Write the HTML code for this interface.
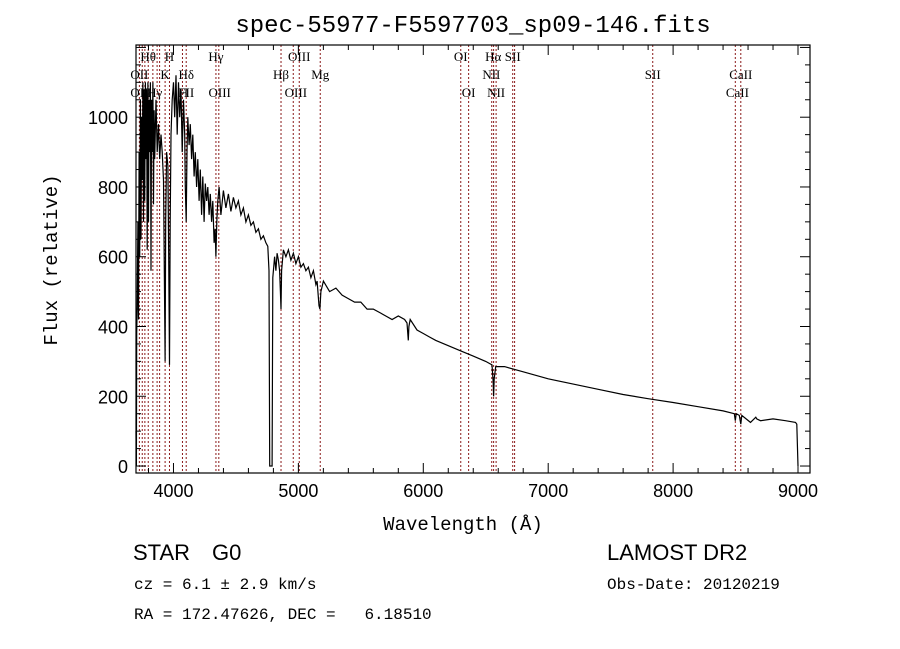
<!DOCTYPE html>
<html><head><meta charset="utf-8"><style>
html,body{margin:0;padding:0;background:#fff;width:900px;height:649px;overflow:hidden}
svg{display:block}
.t{font-family:"Liberation Mono",monospace;fill:#000}
.s{font-family:"Liberation Sans",sans-serif;fill:#000}
.r{font-family:"Liberation Serif",serif;fill:#000;font-size:13px}
</style></head><body>
<svg id="chart" width="900" height="649" viewBox="0 0 900 649" xmlns="http://www.w3.org/2000/svg">
<text class="t" x="473" y="32" font-size="24" text-anchor="middle">spec-55977-F5597703_sp09-146.fits</text>
<text class="t" x="463" y="530" font-size="19" text-anchor="middle">Wavelength (Å)</text>
<text class="t" x="57" y="260" font-size="19" text-anchor="middle" transform="rotate(-90 57 260)">Flux (relative)</text>
<text class="s" x="133" y="560" font-size="22">STAR</text>
<text class="s" x="212" y="560" font-size="22">G0</text>
<text class="s" x="607" y="560" font-size="22">LAMOST DR2</text>
<text class="t" x="134" y="589" font-size="16">cz = 6.1 ± 2.9 km/s</text>
<text class="t" x="607" y="589" font-size="16">Obs-Date: 20120219</text>
<text class="t" x="134" y="619" font-size="16" xml:space="preserve">RA = 172.47626, DEC =   6.18510</text>
<g id="plot"></g>
</svg>
<script>
const wave=[3700,3703,3706,3710,3715,3720,3725,3730,3735,3740,
3745,3750,3755,3760,3765,3770,3775,3780,3785,3790,
3795,3800,3805,3810,3815,3820,3825,3830,3835,3840,
3845,3850,3860,3870,3880,3890,3900,3910,3920,3928,
3933,3938,3945,3955,3962,3968,3974,3980,3990,4000,
4010,4020,4030,4040,4050,4060,4070,4080,4090,4095,
4102,4108,4115,4125,4135,4145,4155,4165,4175,4185,
4195,4205,4215,4225,4235,4245,4255,4265,4275,4285,
4295,4305,4315,4325,4333,4340,4347,4355,4365,4380,
4400,4420,4440,4460,4480,4500,4520,4540,4560,4580,
4600,4620,4640,4660,4680,4700,4720,4740,4755,4765,
4770,4790,4795,4810,4820,4830,4840,4850,4856,4861,
4866,4880,4900,4920,4940,4960,4980,5000,5020,5040,
5060,5080,5100,5120,5140,5150,5165,5172,5180,5200,
5250,5300,5350,5400,5450,5500,5550,5600,5650,5700,
5750,5800,5850,5870,5880,5885,5895,5950,6000,6050,
6100,6200,6300,6400,6500,6550,6560,6563,6568,6580,
6650,6800,7000,7200,7400,7600,7800,8000,8200,8400,
8490,8498,8505,8530,8542,8550,8620,8662,8670,8700,
8800,8900,8980,8990,9000];
const flux=[100,0,380,460,700,420,900,600,1050,650,
1000,820,1100,700,1080,760,1100,880,1080,620,
1100,700,1050,900,1100,560,1050,900,1100,750,
1020,880,1050,900,980,880,950,900,820,500,
300,700,900,860,600,290,700,950,1050,1100,
1000,1120,950,1100,1000,1080,900,1050,950,800,
700,900,1000,920,980,880,950,830,900,800,
880,760,850,720,830,700,810,760,800,720,
780,700,760,640,680,600,700,760,800,720,
790,740,780,730,770,740,760,720,740,700,
720,690,700,670,680,650,660,640,630,560,
0,0,540,600,560,610,590,560,500,450,
560,620,600,620,590,610,580,600,570,580,
560,570,540,560,520,530,460,450,500,530,
500,510,490,480,470,470,450,450,440,430,
420,430,420,410,360,400,420,390,380,370,
360,345,330,315,300,290,240,200,250,285,
285,270,250,235,220,205,193,182,170,158,
150,130,150,145,120,145,125,140,135,130,
135,130,125,120,0];
const lineWave=[3727,3750,3771,3798,3835,3869,3889,3933,3968,4072,4102,4340,4363,4861,4959,5007,5175,6300,6363,6548,6563,6583,6716,6731,7837,8498,8542];
const labelText=["OII","Hθ","OII","Hγ","H","K","H","Hδ","FII","OIII","Hγ","Hβ","OIII","OIII","Mg","OI","OI","NII","Hα","NII","SII","SII","CaII","CaII"];
const labelWave=[3727,3798,3727,3850,3968,3933,4080,4102,4102,4370,4340,4861,5007,4980,5175,6300,6363,6545,6560,6583,6716,7837,8542,8515];
const labelRow=[1,0,2,2,0,1,2,1,2,2,0,1,0,2,1,0,2,1,0,2,0,1,1,2];
const xTicks=[4000,5000,6000,7000,8000,9000];
const yTicks=[0,200,400,600,800,1000];

const L=136,R=810,T=45,B=473;
const xMin=3700,xMax=9096,yMin=-20,yMax=1207;
const X=w=>L+(w-xMin)/(xMax-xMin)*(R-L);
const Y=f=>B-(f-yMin)/(yMax-yMin)*(B-T);
const NS="http://www.w3.org/2000/svg";
const g=document.getElementById('plot');
function mk(tag,attrs){const e=document.createElementNS(NS,tag);for(const k in attrs)e.setAttribute(k,attrs[k]);g.appendChild(e);return e;}

lineWave.forEach(w=>{
 const e=mk('line',{x1:X(w),x2:X(w),y1:T,y2:B,stroke:'#8b1a1a','stroke-width':1,'stroke-dasharray':'2,2'});
 
 
});
labelText.forEach((t,i)=>{
 const e=mk('text',{x:X(labelWave[i]),y:61+labelRow[i]*18,'text-anchor':'middle',class:'r'});
 e.textContent=t;
 
 
});
const p=mk('path',{d:wave.map((w,i)=>(i?'L':'M')+X(w).toFixed(1)+','+Y(flux[i]).toFixed(1)).join(''),fill:'none',stroke:'#000','stroke-width':1.2});


const fr=mk('rect',{x:L,y:T,width:R-L,height:B-T,fill:'none',stroke:'#000','stroke-width':1.2});


for(let w=3800;w<=9000;w+=200){
 const maj=w%1000===0, len=maj?10:5;
 mk('line',{x1:X(w),x2:X(w),y1:B,y2:B-len,stroke:'#000'});
 mk('line',{x1:X(w),x2:X(w),y1:T,y2:T+len,stroke:'#000'});
}
for(let f=0;f<=1200;f+=50){
 const maj=f%200===0, len=maj?10:5;
 mk('line',{x1:L,x2:L+len,y1:Y(f),y2:Y(f),stroke:'#000'});
 mk('line',{x1:R,x2:R-len,y1:Y(f),y2:Y(f),stroke:'#000'});
}
xTicks.forEach(w=>{
 const e=mk('text',{x:X(w),y:B+24,'text-anchor':'middle',class:'s','font-size':18});
 e.textContent=w;
 
 
});
yTicks.forEach(f=>{
 const e=mk('text',{x:L-8,y:Y(f)+7,'text-anchor':'end',class:'s','font-size':18});
 e.textContent=f;
 
 
});
</script>
</body></html>
